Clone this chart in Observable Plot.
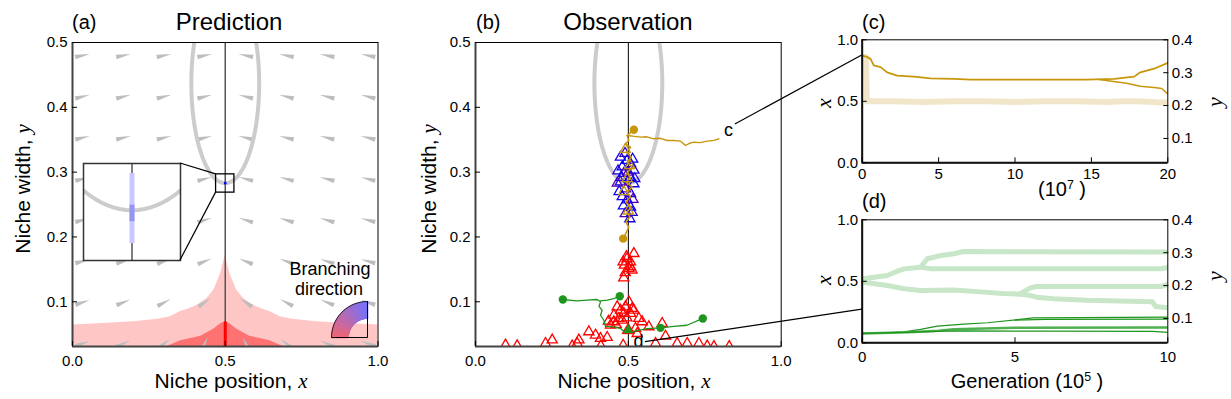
<!DOCTYPE html>
<html><head><meta charset="utf-8">
<script src="https://cdn.jsdelivr.net/npm/d3@7"></script>
<script src="https://cdn.jsdelivr.net/npm/@observablehq/plot@0.6"></script>
<style>
body{margin:0;background:#fff;}
#fig{position:relative;width:1231px;height:399px;overflow:hidden;font-family:"Liberation Sans",Arial,sans-serif;background:#fff;}
.t{position:absolute;white-space:nowrap;color:#000;line-height:1;}
.it{font-family:"Liberation Serif","DejaVu Serif",serif;font-style:italic;}
.sup{font-size:0.62em;position:relative;top:-0.6em;}
</style></head><body><div id="fig"></div>
<script>
// ---------------- data ----------------
const yMinA = 0.031;            // bottom of niche-width axis in (a),(b)
const yMinR = 0.026;            // bottom of right y axis in (c),(d)
const ellipseC = [0.5, 0.437];  // centre of gray ellipse
const ellipseR = [0.111, 0.154];

// vector-field arrows (a)
const arrowX = [0.033, 0.167, 0.3, 0.433, 0.567, 0.7, 0.833, 0.967];
const arrowY = [0.48, 0.4165, 0.353, 0.2895, 0.226, 0.1625, 0.099, 0.0355];
const arrowTilt = [ // degrees above horizontal toward x = 0.5, left half (mirrored)
  [12, 12, 12, 12], [14, 14, 14, 14], [14, 14, 14, 14], [14, 14, 15, 15],
  [15, 16, 17, 18], [16, 18, 20, 22], [18, 22, 28, 35], [20, 25, 40, 65]];

// branching regions (a)
const pinkX = [0, 0.1, 0.2, 0.28, 0.32, 0.354, 0.38, 0.41, 0.44, 0.463, 0.485, 0.493, 0.5, 0.507, 0.515, 0.537, 0.56, 0.59, 0.62, 0.646, 0.68, 0.72, 0.8, 0.9, 1];
const pinkY = [0.064, 0.0665, 0.069, 0.073, 0.077, 0.085, 0.089, 0.095, 0.105, 0.118, 0.1436, 0.1587, 0.172, 0.1587, 0.1436, 0.118, 0.105, 0.095, 0.089, 0.085, 0.077, 0.073, 0.069, 0.0665, 0.064];
const darkRedX = [0.31, 0.354, 0.42, 0.463, 0.485, 0.5, 0.515, 0.537, 0.58, 0.646, 0.69];
const darkRedY = [0.031, 0.04, 0.047, 0.058, 0.066, 0.069, 0.066, 0.058, 0.047, 0.04, 0.031];
const redTipY = 0.069;
const zoomBox = {x1: 0.47, x2: 0.53, y1: 0.2684, y2: 0.2966};
const insetBarY = [0.2733, 0.2937];
const insetCoreY = [0.2797, 0.2845];
const singularY = 0.283;

// observation (b)
const redTriX = [0.483,0.496,0.518,0.487,0.507,0.502,0.512,0.485,0.507,0.494,0.49,
  0.4635,0.4745,0.5017,0.5126,0.4526,0.4853,0.4689,0.5071,0.518,0.4907,0.5344,0.5453,0.4526,0.4417,0.4798,0.5671,0.6107,0.5235,0.46,0.495,0.435,
  0.3708,0.3926,0.4089,0.4307,0.3381,0.3327,0.2509,0.2291,0.1364,0.0982,0.3163,0.589,0.6217,0.6598,0.6925,0.7307,0.758,0.529,0.483,0.41,0.78,0.83];
const redTriY = [0.1615,0.1667,0.1744,0.1564,0.1615,0.1512,0.1487,0.1368,0.154,0.17,0.145,
  0.0922,0.0871,0.0999,0.0896,0.0794,0.082,0.0743,0.082,0.0871,0.0922,0.0743,0.0691,0.0691,0.064,0.0717,0.0614,0.0666,0.0589,0.065,0.075,0.07,
  0.0537,0.0486,0.0435,0.045,0.041,0.0358,0.041,0.0358,0.0322,0.0332,0.0317,0.0358,0.047,0.0358,0.0358,0.0358,0.0317,0.051,0.033,0.032,0.031,0.031];
const blueTriX = [0.474,0.496,0.507,0.48,0.518,0.485,0.507,0.474,0.518,0.491,0.507,0.48,0.496,0.507,0.49,0.505,0.466,0.47,0.514,0.489,0.515,0.476,0.5,0.484,0.512,0.464,0.521];
const blueTriY = [0.323,0.318,0.313,0.308,0.303,0.298,0.292,0.285,0.282,0.274,0.267,0.262,0.257,0.246,0.236,0.228,0.302,0.27,0.32,0.329,0.258,0.292,0.3,0.248,0.238,0.283,0.29];
const blueTriDir = [0.9,1,0.85,1,0.9,0.7,1,0.9,0.95,0.65,1,0.9,0.75,1,0.7,0.9,0.85,1,0.95,0.8,0.7,0.95,0.75,1,0.85,0.7,0.9];
const goldTriX = [0.496, 0.49, 0.505, 0.485, 0.5];
const goldTriY = [0.29, 0.335, 0.31, 0.27, 0.24];
const goldVX = [0.518,0.496,0.5016,0.4906,0.5071,0.4939,0.5092,0.4961,0.5125,0.4983,0.5049,0.4939,0.5125,0.4961,0.5071,0.4917,0.5092,0.4961,0.5049,0.4917,0.5016,0.4939,0.4852,0.483];
const goldVY = [0.3653,0.3566,0.3488,0.3437,0.3385,0.3308,0.3231,0.3154,0.3077,0.3,0.2923,0.2846,0.2769,0.2692,0.2615,0.2538,0.2461,0.2384,0.2307,0.223,0.2153,0.2076,0.1989,0.1974];
const goldHX = [0.496,0.52,0.54,0.56,0.583,0.605,0.627,0.649,0.671,0.687,0.70,0.714,0.735,0.758,0.78,0.796];
const goldHY = [0.3566,0.3552,0.354,0.3545,0.3514,0.3522,0.3488,0.3488,0.3478,0.3411,0.3445,0.3462,0.3455,0.3478,0.3490,0.3514];
const goldDotX = [0.518, 0.483];
const goldDotY = [0.3653, 0.1974];
const green1X = [0.2857,0.33,0.365,0.398,0.409,0.404,0.414,0.409,0.42,0.425,0.453,0.475,0.485,0.518,0.561,0.605,0.649,0.692,0.7436];
const green1Y = [0.1035,0.1015,0.1025,0.1035,0.0999,0.093,0.0869,0.0792,0.0715,0.0622,0.0612,0.0586,0.055,0.0545,0.0586,0.0597,0.0622,0.0638,0.0743];
const green2X = [0.472,0.453,0.431,0.409];
const green2Y = [0.1086,0.105,0.1025,0.1015];
const greenDotX = [0.2857, 0.472, 0.605, 0.7436];
const greenDotY = [0.1035, 0.1086, 0.0598, 0.0743];
const greenTri = [0.4995, 0.0562];
const labelC = [0.828, 0.364], labelD = [0.533, 0.0388];
const linkC = [0.85, 0.3735], linkD = [0.556, 0.0377];

// (c): time in 10^7, x on left axis, y on right axis
const cPaleT = [0, 0.25, 0.3, 1, 2, 4, 6, 8, 10, 12, 14, 16, 17, 18, 19, 19.5, 20];
const cPaleX = [0.86, 0.86, 0.5, 0.5, 0.5, 0.495, 0.5, 0.5, 0.495, 0.5, 0.5, 0.495, 0.5, 0.5, 0.495, 0.49, 0.49];
const cY1T = [0,0.3,0.54,0.76,1.2,1.63,2.29,3.38,4.47,6,7.1,10.4,14.7,16.5,17.8,18.2,19.1,19.96];
const cY1 = [0.352,0.348,0.342,0.322,0.317,0.301,0.291,0.288,0.283,0.281,0.279,0.279,0.279,0.281,0.288,0.301,0.312,0.329];
const cY2T = [15.5,16.2,17.3,18.2,19.1,19.6,19.96];
const cY2 = [0.279,0.275,0.268,0.259,0.255,0.252,0.237];
// (d): generation in 10^5
const dPale = [
  {t:[0,0.27,0.82,1.15,1.37,1.91,2.13,2.57,3.0,3.33,10], x:[0.52,0.528,0.547,0.582,0.601,0.615,0.683,0.71,0.724,0.742,0.738]},
  {t:[1.91,2.24,9.8,10], x:[0.615,0.602,0.602,0.612]},
  {t:[0,0.82,1.37,1.91,3.0,4.1,4.6,5.15,5.5,5.7,6.26,7.35,8.4,9.5,9.6,10], x:[0.495,0.466,0.439,0.425,0.43,0.41,0.40,0.396,0.385,0.371,0.358,0.345,0.339,0.333,0.295,0.285]},
  {t:[5.15,5.5,5.7,9.8,10], x:[0.396,0.447,0.458,0.458,0.474]}];
const dGreen = [
  {t:[0,0.82,1.37,1.91,2.46,3.33,4.1,5.15,5.6,10], y:[0.0545,0.0564,0.0594,0.067,0.0767,0.083,0.087,0.097,0.1015,0.104], w:1.2},
  {t:[5.0,6,10], y:[0.095,0.097,0.098], w:1.2},
  {t:[0,1.5,2.5,3.0,5.0,10], y:[0.0545,0.058,0.063,0.067,0.0715,0.0727], w:2.5},
  {t:[0,1.37,2.5,3.0,6,9.5,10], y:[0.0545,0.0575,0.061,0.0624,0.0615,0.0605,0.058], w:1.2}];
const dLinkX = 0.27;

// ---------------- helpers ----------------
const fig = document.getElementById("fig");
const f1 = d3.format(".1f");
const base = {fontFamily: "'Liberation Sans', Arial, sans-serif", fontSize: "15px", color: "black", background: "transparent", overflow: "visible"};
function place(el, left, top) { el.style.position = "absolute"; el.style.left = left + "px"; el.style.top = top + "px"; fig.appendChild(el); return el; }
function txt(html, x, y, size, anchor = "middle", rotate = 0, cls = "") {
  const d = document.createElement("div");
  d.className = "t " + cls; d.innerHTML = html;
  d.style.left = x + "px"; d.style.top = y + "px"; d.style.fontSize = size + "px";
  const tx = anchor === "start" ? "0" : anchor === "end" ? "-100%" : "-50%";
  d.style.transform = `translate(${tx},-50%) rotate(${rotate}deg)`;
  fig.appendChild(d);
}
const zip = (xs, ys) => xs.map((x, i) => ({x, y: ys[i]}));
const ellipsePts = d3.range(0, 361, 2).map(a => ({x: ellipseC[0] + ellipseR[0] * Math.cos(a * Math.PI / 180), y: ellipseC[1] + ellipseR[1] * Math.sin(a * Math.PI / 180)}));
const arrows = [];
arrowY.forEach((y, i) => arrowX.forEach((x, j) => {
  const tilt = arrowTilt[i][j < 4 ? j : 7 - j];
  arrows.push({x, y, rotate: j < 4 ? 90 - tilt : 270 + tilt});
}));
const toL = y => (y - yMinR) / (0.4 - yMinR);
const fromL = v => v * (0.4 - yMinR) + yMinR;
const colorOpt = {type: "linear", domain: [0, 1], range: ["#ff0000", "#0000ff"], interpolate: "rgb"};
const legendColor = {type: "linear", domain: [0, 1], range: ["#ee6676", "#7272ff"], interpolate: "rgb"};

function frameMarks(xmin, ymin, thick = "#444") {
  return [Plot.frame({stroke: "black", strokeWidth: 1}),
    Plot.ruleX([xmin], {stroke: thick, strokeWidth: 2}),
    Plot.ruleY([ymin], {stroke: thick, strokeWidth: 2})];
}

// ---------------- panel (a) ----------------
const A = Plot.plot({
  width: 400, height: 399, marginTop: 42, marginLeft: 72, marginRight: 22.5, marginBottom: 53,
  style: base, x: {domain: [0, 1], label: null}, y: {domain: [yMinA, 0.5], label: null},
  marks: [
    Plot.areaY(zip(pinkX, pinkY), {x: "x", y: "y", fill: "#ffc6c6", clip: true}),
    Plot.areaY(zip(darkRedX, darkRedY), {x: "x", y: "y", fill: "#ff7272", clip: true}),
    Plot.vector(arrows, {x: "x", y: "y", rotate: "rotate", length: 15, shape: "spike", r: 2.3, anchor: "middle", fill: "#bdbdbd", stroke: "none", clip: true}),
    Plot.line(ellipsePts, {x: "x", y: "y", stroke: "#cccccc", strokeWidth: 4, clip: true}),
    Plot.ruleX([0.5], {stroke: "#555", strokeWidth: 1.5}),
    Plot.ruleX([0.5], {y1: yMinA, y2: redTipY, stroke: "#ff0000", strokeWidth: 3}),
    Plot.rect([zoomBox], {x1: "x1", x2: "x2", y1: "y1", y2: "y2", stroke: "black", strokeWidth: 1.3, fill: "none"}),
    Plot.dot([{x: 0.5, y: singularY}], {x: "x", y: "y", r: 1.3, fill: "#0000ff"}),
    ...frameMarks(0, yMinA),
    Plot.axisX({ticks: [0, 0.5, 1], tickFormat: f1, tickSize: -5, tickPadding: 14, label: null}),
    Plot.axisY({ticks: [0.1, 0.2, 0.3, 0.4, 0.5], tickFormat: f1, tickSize: -5, tickPadding: 10, label: null})
  ]
});
place(A, 0, 0);

// inset
const INS = Plot.plot({
  width: 97, height: 97, margin: 0, style: {...base, overflow: "visible"},
  x: {domain: [zoomBox.x1, zoomBox.x2], axis: null}, y: {domain: [zoomBox.y1, zoomBox.y2], axis: null},
  marks: [
    Plot.frame({fill: "white", stroke: "none"}),
    Plot.line(ellipsePts, {x: "x", y: "y", stroke: "#cccccc", strokeWidth: 4, clip: true}),
    Plot.ruleX([0.5], {stroke: "#555", strokeWidth: 1.5}),
    Plot.ruleX([0.5], {y1: insetBarY[0], y2: insetBarY[1], stroke: "#c8c8ff", strokeWidth: 5}),
    Plot.ruleX([0.5], {y1: insetCoreY[0], y2: insetCoreY[1], stroke: "#9494f2", strokeWidth: 5}),
    Plot.frame({stroke: "#333", strokeWidth: 1.5})
  ]
});
place(INS, 83, 163);

// branching-direction legend
const angles = d3.range(90, 180.5, 0.75);
const LEG = Plot.plot({
  width: 38, height: 38, margin: 1, style: base,
  x: {domain: [-1, 0], axis: null}, y: {domain: [0, 1], axis: null}, color: legendColor,
  marks: [
    Plot.link(angles, {x1: a => 0.52 * Math.cos(a * Math.PI / 180), y1: a => 0.52 * Math.sin(a * Math.PI / 180),
      x2: a => Math.cos(a * Math.PI / 180), y2: a => Math.sin(a * Math.PI / 180),
      stroke: a => (180 - a) / 90, strokeWidth: 1.6}),
    Plot.line([...angles.map(a => ({x: Math.cos(a * Math.PI / 180), y: Math.sin(a * Math.PI / 180)})), {x: -1, y: 0}, {x: 0, y: 0}, {x: 0, y: 1}],
      {x: "x", y: "y", stroke: "black", strokeWidth: 1})
  ]
});
place(LEG, 330, 300);

// ---------------- panel (b) ----------------
const B = Plot.plot({
  width: 420, height: 399, marginTop: 42, marginLeft: 75, marginRight: 39.3, marginBottom: 53,
  style: base, x: {domain: [0, 1], label: null}, y: {domain: [yMinA, 0.5], label: null}, color: colorOpt,
  marks: [
    Plot.line(ellipsePts, {x: "x", y: "y", stroke: "#cccccc", strokeWidth: 4, clip: true}),
    Plot.ruleX([0.5], {stroke: "black", strokeWidth: 1}),
    Plot.dot(zip(redTriX, redTriY), {x: "x", y: "y", symbol: "triangle", r: 3.8, stroke: "#ff0000", strokeWidth: 1.3, fill: "none", clip: true}),
    Plot.dot(blueTriX.map((x, i) => ({x, y: blueTriY[i], d: blueTriDir[i]})), {x: "x", y: "y", symbol: "triangle", r: 3.8, stroke: "d", strokeWidth: 1.3, fill: "none"}),
    Plot.dot(zip(goldTriX, goldTriY), {x: "x", y: "y", symbol: "triangle", r: 3.8, stroke: "#c8960a", strokeWidth: 1.3, fill: "none"}),
    Plot.line(zip(goldVX, goldVY), {x: "x", y: "y", stroke: "#c8960a", strokeWidth: 1.5}),
    Plot.line(zip(goldHX, goldHY), {x: "x", y: "y", stroke: "#c8960a", strokeWidth: 1.4}),
    Plot.dot(zip(goldDotX, goldDotY), {x: "x", y: "y", r: 4.2, fill: "#c8960a"}),
    Plot.line(zip(green1X, green1Y), {x: "x", y: "y", stroke: "#1e961e", strokeWidth: 1.3}),
    Plot.line(zip(green2X, green2Y), {x: "x", y: "y", stroke: "#1e961e", strokeWidth: 1.3}),
    Plot.dot(zip(greenDotX, greenDotY), {x: "x", y: "y", r: 4.2, fill: "#1e961e"}),
    Plot.dot([{x: greenTri[0], y: greenTri[1]}], {x: "x", y: "y", symbol: "triangle", r: 4.5, fill: "#1e961e", stroke: "#ff0000", strokeWidth: 1}),
    Plot.text([{x: labelC[0], y: labelC[1], t: "c"}, {x: labelD[0], y: labelD[1], t: "d"}], {x: "x", y: "y", text: "t", fontSize: 18}),
    ...frameMarks(0, yMinA),
    Plot.axisX({ticks: [0, 0.5, 1], tickFormat: f1, tickSize: -5, tickPadding: 14, label: null}),
    Plot.axisY({ticks: [0.1, 0.2, 0.3, 0.4, 0.5], tickFormat: f1, tickSize: -5, tickPadding: 10, label: null})
  ]
});
place(B, 400, 0);

// ---------------- panel (c) ----------------
const rightTicks = [0.1, 0.2, 0.3, 0.4];
const C = Plot.plot({
  width: 411, height: 200, marginTop: 39.3, marginLeft: 41.7, marginRight: 63.7, marginBottom: 37.7,
  style: base, x: {domain: [0, 20], label: null}, y: {domain: [0, 1], label: null},
  marks: [
    Plot.line(zip(cPaleT, cPaleX), {x: "x", y: "y", stroke: "#f1e6c9", strokeWidth: 6, clip: true}),
    Plot.line(zip(cY1T, cY1), {x: "x", y: d => toL(d.y), stroke: "#c8960a", strokeWidth: 1.8}),
    Plot.line(zip(cY2T, cY2), {x: "x", y: d => toL(d.y), stroke: "#c8960a", strokeWidth: 1.5}),
    ...frameMarks(0, 0, "#111"),
    Plot.axisX({ticks: [0, 5, 10, 15, 20], tickFormat: d => d, tickSize: -5, tickPadding: 11, label: null}),
    Plot.axisY({ticks: [0, 0.5, 1], tickFormat: f1, tickSize: -5, tickPadding: 9, label: null}),
    Plot.axisY({anchor: "right", ticks: rightTicks.map(toL), tickFormat: d => f1(fromL(d)), tickSize: -5, tickPadding: 9, label: null})
  ]
});
place(C, 820, 0);

// ---------------- panel (d) ----------------
const D = Plot.plot({
  width: 411, height: 199, marginTop: 19.3, marginLeft: 41.7, marginRight: 63.7, marginBottom: 56.7,
  style: base, x: {domain: [0, 10], label: null}, y: {domain: [0, 1], label: null},
  marks: [
    ...dPale.map(s => Plot.line(zip(s.t, s.x), {x: "x", y: "y", stroke: "#c8e6c8", strokeWidth: 5, clip: true})),
    ...dGreen.map(s => Plot.line(zip(s.t, s.y), {x: "x", y: d => toL(d.y), stroke: s.w > 2 ? "#4fb04f" : "#1e961e", strokeWidth: s.w, clip: true})),
    ...frameMarks(0, 0, "#111"),
    Plot.axisX({ticks: [0, 5, 10], tickFormat: d => d, tickSize: -5, tickPadding: 14, label: null}),
    Plot.axisY({ticks: [0, 0.5, 1], tickFormat: f1, tickSize: -5, tickPadding: 9, label: null}),
    Plot.axisY({anchor: "right", ticks: rightTicks.map(toL), tickFormat: d => f1(fromL(d)), tickSize: -5, tickPadding: 9, label: null})
  ]
});
place(D, 820, 200);

// ---------------- connectors ----------------
const P = (plot, ox, oy, x, y) => [ox + plot.scale("x").apply(x), oy + plot.scale("y").apply(y)];
const segs = [
  [[83 + 97, 163], P(A, 0, 0, zoomBox.x1, zoomBox.y2)],
  [[83 + 97, 163 + 97], P(A, 0, 0, zoomBox.x1, zoomBox.y1)],
  [P(B, 400, 0, linkC[0], linkC[1]), P(C, 820, 0, 0, toL(cY1[0]))],
  [P(B, 400, 0, linkD[0], linkD[1]), P(D, 820, 200, 0, dLinkX)]
];
const ov = d3.create("svg").attr("width", 1231).attr("height", 399)
  .style("position", "absolute").style("left", "0px").style("top", "0px").style("pointer-events", "none");
ov.selectAll("line").data(segs).join("line")
  .attr("x1", d => d[0][0]).attr("y1", d => d[0][1]).attr("x2", d => d[1][0]).attr("y2", d => d[1][1])
  .attr("stroke", "black").attr("stroke-width", 1.2);
fig.appendChild(ov.node());

// ---------------- text ----------------
txt("(a)", 72, 22, 20, "start");
txt("Prediction", 229, 22, 24);
txt("(b)", 476, 22, 20, "start");
txt("Observation", 628, 22, 24);
txt("(c)", 862, 22, 20, "start");
txt("(d)", 862, 201, 20, "start");
txt('Niche position, <span class="it">x</span>', 231, 381, 21);
txt('Niche position, <span class="it">x</span>', 634, 381, 21);
txt('Niche width, <span class="it">y</span>', 23, 189, 21, "middle", -90);
txt('Niche width, <span class="it">y</span>', 429, 189, 21, "middle", -90);
txt('(10<span class="sup">7</span> )', 1062, 189, 20);
txt('Generation (10<span class="sup">5</span> )', 1027, 381, 20);
txt("x", 824, 103, 22, "middle", -90, "it");
txt("x", 824, 280, 22, "middle", -90, "it");
txt("y", 1215, 102, 22, "middle", -90, "it");
txt("y", 1215, 276, 22, "middle", -90, "it");
txt("Branching", 330, 269, 18);
txt("direction", 329, 289, 18);
</script></body></html>
